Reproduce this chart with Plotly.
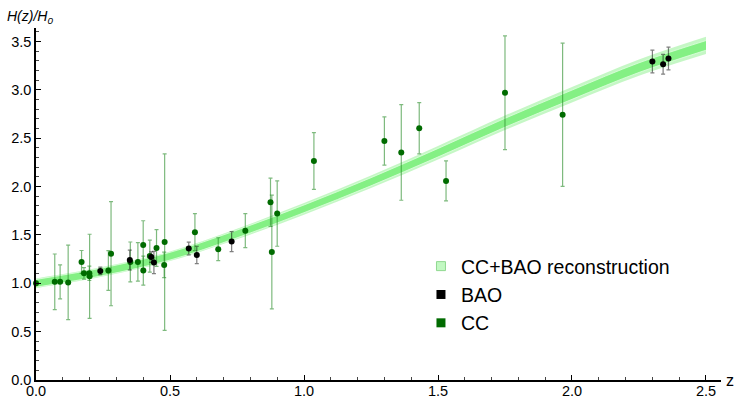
import plotly.graph_objects as go

# --- reconstruction band ---
band_z = [0.0, 0.25, 0.5, 0.75, 1.0, 1.25, 1.5, 1.75, 2.0, 2.25, 2.5]
band_mid = [1.00, 1.12, 1.28, 1.51, 1.77, 2.05, 2.35, 2.66, 2.95, 3.23, 3.46]
band_outer = [0.05, 0.05, 0.05, 0.055, 0.06, 0.065, 0.07, 0.075, 0.08, 0.085, 0.09]
band_inner = [0.04, 0.04, 0.04, 0.04, 0.04, 0.042, 0.044, 0.046, 0.048, 0.05, 0.05]

# --- CC data (H/H0) ---
cc_z = [0.0, 0.07, 0.09, 0.12, 0.17, 0.179, 0.199, 0.2, 0.27, 0.28, 0.352, 0.3802, 0.4, 0.4004,
        0.4247, 0.4497, 0.4783, 0.48, 0.593, 0.68, 0.781, 0.875, 0.88, 0.9, 1.037, 1.3,
        1.363, 1.43, 1.53, 1.75, 1.965]
cc_h = [1.0, 1.015, 1.015, 1.009, 1.221, 1.103, 1.103, 1.072, 1.132, 1.306, 1.221, 1.221, 1.397, 1.132,
        1.281, 1.365, 1.190, 1.426, 1.529, 1.353, 1.544, 1.838, 1.324, 1.721, 2.265, 2.471,
        2.353, 2.603, 2.059, 2.971, 2.743]
cc_err = [0.0, 0.288, 0.176, 0.385, 0.118, 0.059, 0.074, 0.435, 0.206, 0.538, 0.206, 0.199, 0.25, 0.15,
          0.165, 0.19, 0.132, 0.912, 0.191, 0.118, 0.176, 0.25, 0.588, 0.338, 0.294, 0.25,
          0.494, 0.265, 0.206, 0.588, 0.741]

# --- BAO data (H/H0) ---
bao_z = [0.24, 0.35, 0.43, 0.44, 0.57, 0.60, 0.73, 2.30, 2.34, 2.36]
bao_h = [1.128, 1.241, 1.271, 1.215, 1.359, 1.293, 1.431, 3.294, 3.265, 3.324]
bao_err = [0.039, 0.103, 0.054, 0.115, 0.066, 0.09, 0.103, 0.118, 0.103, 0.118]

x_ticks = [0.0, 0.5, 1.0, 1.5, 2.0, 2.5]
y_ticks = [0.0, 0.5, 1.0, 1.5, 2.0, 2.5, 3.0, 3.5]

FONT = "Liberation Sans, Arial, sans-serif"

fig = go.Figure()

outer_up = [m + w for m, w in zip(band_mid, band_outer)]
outer_lo = [m - w for m, w in zip(band_mid, band_outer)]
inner_up = [m + w for m, w in zip(band_mid, band_inner)]
inner_lo = [m - w for m, w in zip(band_mid, band_inner)]

fig.add_trace(go.Scatter(x=band_z, y=outer_lo, mode="lines", line=dict(width=0, shape="spline"),
                         showlegend=False, hoverinfo="skip"))
fig.add_trace(go.Scatter(x=band_z, y=outer_up, mode="lines", line=dict(width=0, shape="spline"),
                         fill="tonexty", fillcolor="rgba(150,240,150,0.55)", showlegend=False,
                         hoverinfo="skip"))
fig.add_trace(go.Scatter(x=band_z, y=inner_lo, mode="lines",
                         line=dict(width=1, shape="spline", color="rgba(225,255,225,0.8)"),
                         showlegend=False, hoverinfo="skip"))
fig.add_trace(go.Scatter(x=band_z, y=inner_up, mode="lines",
                         line=dict(width=1, shape="spline", color="rgba(225,255,225,0.8)"),
                         fill="tonexty", fillcolor="rgba(120,238,120,0.85)", showlegend=False,
                         hoverinfo="skip"))

fig.add_trace(go.Scatter(
    x=cc_z, y=cc_h, mode="markers",
    marker=dict(color="#006b00", size=6),
    error_y=dict(type="data", array=cc_err, color="rgba(40,140,40,0.6)", thickness=1.2, width=2),
    showlegend=False, cliponaxis=False))
fig.add_trace(go.Scatter(
    x=bao_z, y=bao_h, mode="markers",
    marker=dict(color="black", size=6),
    error_y=dict(type="data", array=bao_err, color="rgba(0,0,0,0.5)", thickness=1.2, width=2),
    showlegend=False))

# legend entries
fig.add_trace(go.Scatter(x=[None], y=[None], mode="markers", name="CC+BAO reconstruction",
                         marker=dict(symbol="square", size=9, color="#c2f8c2",
                                     line=dict(color="#90d890", width=1)),
                         legendgroup="a"))
fig.add_trace(go.Scatter(x=[None], y=[None], mode="markers", name="BAO",
                         marker=dict(symbol="square", size=9, color="black"), legendgroup="b"))
fig.add_trace(go.Scatter(x=[None], y=[None], mode="markers", name="CC",
                         marker=dict(symbol="square", size=9, color="#006b00"), legendgroup="c"))

fig.update_layout(
    width=737, height=399,
    margin=dict(l=36, r=16, t=28, b=19),
    paper_bgcolor="white", plot_bgcolor="white",
    font=dict(family=FONT, size=15, color="black"),
    legend=dict(x=0.562, y=0.378, xanchor="left", yanchor="top", bgcolor="rgba(0,0,0,0)",
                font=dict(size=19.5, family=FONT), traceorder="grouped", tracegroupgap=0),
    xaxis=dict(range=[0, 2.556], showgrid=False, zeroline=False, showline=True, linecolor="black",
               linewidth=1.5, ticks="inside", ticklen=5, tickwidth=1, tickcolor="black",
               tickvals=x_ticks, ticktext=[f"{v:.1f}" for v in x_ticks], automargin=False,
               minor=dict(dtick=0.1, ticks="inside", ticklen=3, tickcolor="#444"),
               tickfont=dict(size=14.5), ticklabelstandoff=-3, fixedrange=True),
    yaxis=dict(range=[0, 3.64], showgrid=False, zeroline=False, showline=True, linecolor="black",
               linewidth=1.5, ticks="inside", ticklen=5, tickwidth=1, tickcolor="black",
               tickvals=y_ticks, ticktext=[f"{v:.1f}" for v in y_ticks], automargin=False,
               minor=dict(dtick=0.1, ticks="inside", ticklen=3, tickcolor="#444"),
               tickfont=dict(size=14.5), fixedrange=True),
    annotations=[
        dict(text="<i>H(z)/H<sub>0</sub></i>", xref="paper", yref="paper", x=-0.045, y=1.0,
             xanchor="left", yanchor="bottom", showarrow=False, font=dict(size=14), yshift=0),
        dict(text="z", xref="paper", yref="paper", x=1.0, y=0.0, xanchor="left", yanchor="middle",
             showarrow=False, font=dict(size=16), xshift=3, yshift=0),
    ],
)

fig.write_html("out.html")
